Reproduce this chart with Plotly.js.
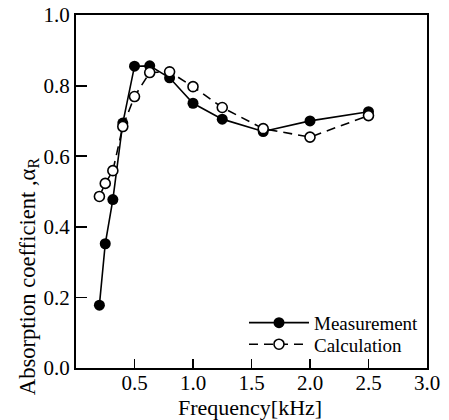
<!DOCTYPE html>
<html>
<head>
<meta charset="utf-8">
<script src="https://cdn.plot.ly/plotly-3.0.1.min.js"></script>
<style>html,body{margin:0;padding:0;background:#fff;}#chart{width:449px;height:420px;}</style>
</head>
<body>
<div id="chart"></div>
<script>
const frequency = [0.2, 0.25, 0.315, 0.4, 0.5, 0.63, 0.8, 1.0, 1.25, 1.6, 2.0, 2.5];
const measurement = [0.178, 0.352, 0.477, 0.694, 0.855, 0.856, 0.822, 0.750, 0.705, 0.670, 0.700, 0.726];
const calculation = [0.486, 0.523, 0.559, 0.684, 0.769, 0.837, 0.839, 0.797, 0.738, 0.678, 0.654, 0.715];
const xTicks = [0.5, 1.0, 1.5, 2.0, 2.5, 3.0];
const xTickLabels = ['0.5', '1.0', '1.5', '2.0', '2.5', '3.0'];
const yTicks = [0.0, 0.2, 0.4, 0.6, 0.8, 1.0];
const yTickLabels = ['0.0', '0.2', '0.4', '0.6', '0.8', '1.0'];
const xTitle = 'Frequency[kHz]';
const yTitle = 'Absorption coefficient ,α<sub>R</sub>';

const fam = 'Liberation Serif';
const tickFont = {family: fam, size: 21, color: '#000'};
const legFont = {family: fam, size: 19, color: '#000'};

const traces = [
  {
    x: frequency, y: measurement, name: 'Measurement', type: 'scatter', mode: 'lines+markers',
    line: {color: '#000', width: 1.6},
    marker: {color: '#000', size: 11, symbol: 'circle'},
    legend: 'legend'
  },
  {
    x: frequency, y: calculation, name: 'Calculation', type: 'scatter', mode: 'lines+markers',
    line: {color: '#000', width: 1.6, dash: '9px,6px'},
    marker: {color: '#fff', size: 10, symbol: 'circle', line: {color: '#000', width: 1.6}},
    legend: 'legend2'
  }
];

const layout = {
  width: 449, height: 420,
  margin: {l: 76, r: 22, t: 15, b: 52},
  paper_bgcolor: '#fff', plot_bgcolor: '#fff',
  font: {family: fam, size: 21, color: '#000'},
  showlegend: true,
  legend: {
    x: 0.4786, y: 0.128, xanchor: 'left', yanchor: 'middle',
    bgcolor: 'rgba(0,0,0,0)', borderwidth: 0, font: legFont, itemwidth: 60
  },
  legend2: {
    x: 0.4786, y: 0.067, xanchor: 'left', yanchor: 'middle',
    bgcolor: 'rgba(0,0,0,0)', borderwidth: 0, font: legFont, itemwidth: 60
  },
  xaxis: {
    range: [0, 3.0], tickvals: xTicks, ticktext: xTickLabels,
    ticks: 'inside', ticklen: 9, tickwidth: 1.8, tickcolor: '#000',
    ticklabelstandoff: -5,
    showline: true, linecolor: '#000', linewidth: 2, mirror: true,
    showgrid: false, zeroline: false,
    tickfont: tickFont
  },
  yaxis: {
    range: [0, 1.0], tickvals: yTicks, ticktext: yTickLabels,
    ticks: 'inside', ticklen: 11, tickwidth: 1.8, tickcolor: '#000',
    showline: true, linecolor: '#000', linewidth: 2, mirror: true,
    showgrid: false, zeroline: false,
    tickfont: tickFont
  },
  annotations: [
    {
      text: yTitle, textangle: -90, showarrow: false,
      xref: 'paper', yref: 'paper', x: -0.134, y: 0.26,
      xanchor: 'center', yanchor: 'middle',
      font: {family: fam, size: 22.6, color: '#000'}
    },
    {
      text: xTitle, showarrow: false,
      xref: 'paper', yref: 'paper', x: 0.496, y: -0.113,
      xanchor: 'center', yanchor: 'middle',
      font: {family: fam, size: 22, color: '#000'}
    }
  ]
};

Plotly.newPlot('chart', traces, layout, {displayModeBar: false, staticPlot: true});
</script>
</body>
</html>
